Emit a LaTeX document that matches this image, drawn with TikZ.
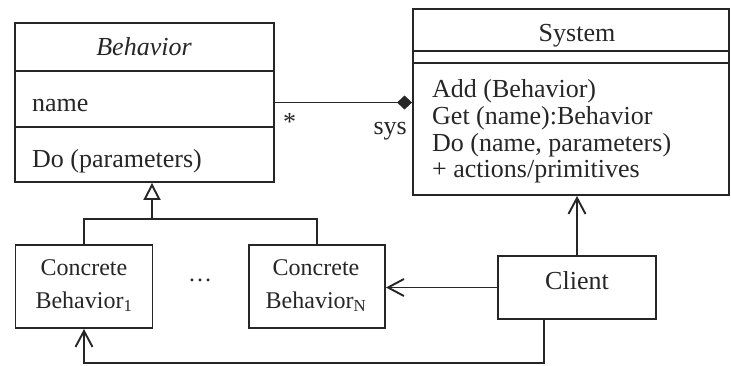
\documentclass[tikz,border=0pt]{standalone}
\usepackage{fontspec}
\setmainfont{Liberation Serif}
\usetikzlibrary{arrows.meta}
\begin{document}
\begin{tikzpicture}[x=1pt,y=-1pt,
  umlbox/.style={draw=black!85, line width=1.9pt, rectangle, inner sep=0pt},
  txt/.style={inner sep=0pt, font=\fontsize{26}{30}\selectfont, text=black!85},
  smalltxt/.style={inner sep=0pt, font=\fontsize{24}{28}\selectfont, text=black!85},
  conn/.style={line width=1.9pt, draw=black!85},
  openarrow/.style={-{Straight Barb[length=16pt,width=17pt]}},
  genarrow/.style={-{Triangle[open,length=17pt,width=17pt]}},
  comparrow/.style={-{Diamond[length=15pt,width=14pt]}}]
\useasboundingbox (0,0) rectangle (731,365);
% Behavior class
\node[umlbox, minimum width=259pt, minimum height=159pt] (beh) at (144.5,102.5) {};
\draw[conn] ([yshift=-49pt]beh.north west) -- ([yshift=-49pt]beh.north east);
\draw[conn] ([yshift=-105pt]beh.north west) -- ([yshift=-105pt]beh.north east);
\node[txt, anchor=base] (behT) at (144,55) {\itshape Behavior};
\node[txt, anchor=base west] (behA) at (32,111) {name};
\node[txt, anchor=base west] (behO) at (32,167) {Do (parameters)};
% System class
\node[umlbox, minimum width=316pt, minimum height=186pt] (sys) at (571,102) {};
\draw[conn] ([yshift=-43pt]sys.north west) -- ([yshift=-43pt]sys.north east);
\draw[conn] ([yshift=-55pt]sys.north west) -- ([yshift=-55pt]sys.north east);
\node[txt, anchor=base] (sysT) at (577,41) {System};
\node[txt, anchor=base west] (sysA) at (432,97) {Add (Behavior)};
\node[txt, anchor=base west] (sysB) at (432,124) {Get (name):Behavior};
\node[txt, anchor=base west] (sysC) at (432,151) {Do (name, parameters)};
\node[txt, anchor=base west] (sysD) at (432,177) {+ actions/primitives};
% association
\draw[conn, comparrow] (beh.east) -- (sys.west |- beh.east);
\node[txt, anchor=base west] (star) at (283,130) {*};
\node[txt, anchor=base east] (sysl) at (407,134) {sys};
% concrete behaviors
\node[umlbox, minimum width=137pt, minimum height=83pt] (cb1) at (84,286.5) {};
\node[smalltxt, anchor=base] (cb1a) at (84,275) {Concrete};
\node[smalltxt, anchor=base] (cb1b) at (84,308) {Behavior\textsubscript{1}};
\node[umlbox, minimum width=136pt, minimum height=83pt] (cbn) at (317,286.5) {};
\node[smalltxt, anchor=base] (cbna) at (316,275) {Concrete};
\node[smalltxt, anchor=base] (cbnb) at (316,308) {Behavior\textsubscript{N}};
\node[smalltxt, anchor=base] (dots) at (200,281) {…};
% client
\node[umlbox, minimum width=158pt, minimum height=63pt] (cli) at (577,287.5) {};
\node[txt, anchor=base] (cliT) at (577,289) {Client};
% generalization
\coordinate (j) at (152,219);
\draw[conn, genarrow] (j) -- (j |- beh.south);
\draw[conn] (cb1.north) |- (j) -| (cbn.north);
% client dependencies
\draw[conn, openarrow] (cli.west) -- (cbn.east |- cli.west);
\draw[conn, openarrow] (cli.north) -- (cli.north |- sys.south);
\coordinate (low) at (0,363);
\draw[conn, openarrow] ([xshift=-33pt]cli.south) |- (cb1.south |- low) -- (cb1.south);
\end{tikzpicture}
\end{document}
